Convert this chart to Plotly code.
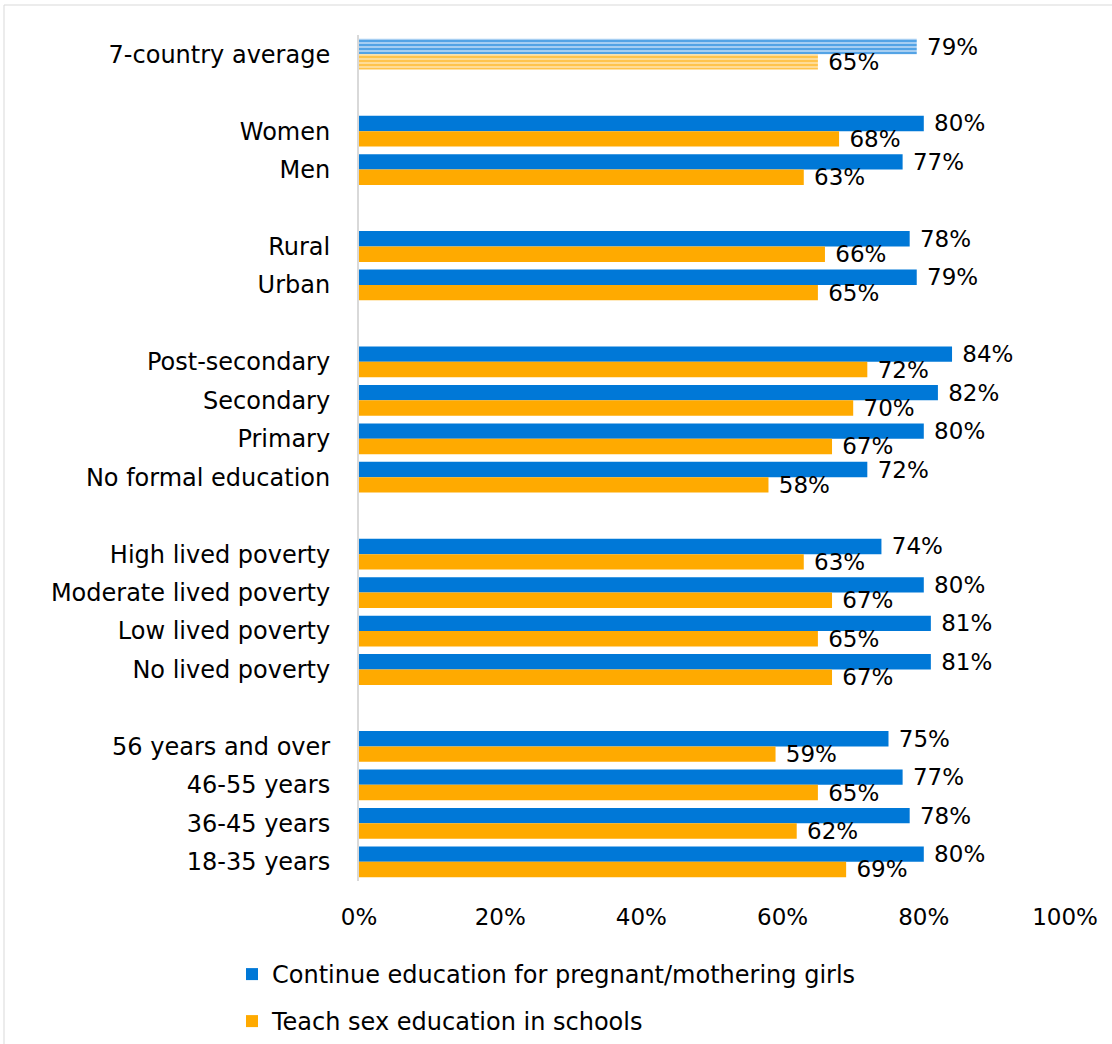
import plotly.graph_objects as go

categories = ["7-country average", " ", "Women", "Men", "  ", "Rural", "Urban", "   ",
              "Post-secondary", "Secondary", "Primary", "No formal education", "    ",
              "High lived poverty", "Moderate lived poverty", "Low lived poverty", "No lived poverty", "     ",
              "56 years and over", "46-55 years", "36-45 years", "18-35 years"]
continue_edu = [79, None, 80, 77, None, 78, 79, None, 84, 82, 80, 72, None, 74, 80, 81, 81, None, 75, 77, 78, 80]
sex_edu = [65, None, 68, 63, None, 66, 65, None, 72, 70, 67, 58, None, 63, 67, 65, 67, None, 59, 65, 62, 69]
x_ticks = [0, 20, 40, 60, 80, 100]
x_tick_labels = ["0%", "20%", "40%", "60%", "80%", "100%"]

BLUE = "#0078d7"
ORANGE = "#ffaa00"
FONT = "DejaVu Sans"
FS = 24

def lab(v):
    return "" if v is None else f" {v}%"

avg_idx = 0
rest = list(range(1, len(categories)))

common = dict(orientation="h", textposition="outside", cliponaxis=False, constraintext="none",
              textfont=dict(family=FONT, size=FS - 1, color="#000"))

fig = go.Figure()
# 7-country average (striped)
fig.add_trace(go.Bar(
    y=[categories[avg_idx]], x=[continue_edu[avg_idx]],
    offsetgroup="a", showlegend=False,
    marker=dict(color="white", line=dict(width=0),
                pattern=dict(shape="-", fgcolor=BLUE, bgcolor="#a6cef2", size=4, solidity=0.5)),
    text=[lab(continue_edu[avg_idx])], **common))
fig.add_trace(go.Bar(
    y=[categories[avg_idx]], x=[sex_edu[avg_idx]],
    offsetgroup="b", showlegend=False,
    marker=dict(color="white", line=dict(width=0),
                pattern=dict(shape="-", fgcolor=ORANGE, bgcolor="#ffdc96", size=4, solidity=0.5)),
    text=[lab(sex_edu[avg_idx])], **common))
# Main bars
fig.add_trace(go.Bar(
    y=[categories[i] for i in rest], x=[continue_edu[i] for i in rest],
    offsetgroup="a", name="Continue education for pregnant/mothering girls",
    marker=dict(color=BLUE, line=dict(width=0)),
    text=[lab(continue_edu[i]) for i in rest], legend="legend", **common))
fig.add_trace(go.Bar(
    y=[categories[i] for i in rest], x=[sex_edu[i] for i in rest],
    offsetgroup="b", name="Teach sex education in schools",
    marker=dict(color=ORANGE, line=dict(width=0)),
    text=[lab(sex_edu[i]) for i in rest], legend="legend2", **common))

L, R, T, B = 359, 1065, 35, 881
W, H = 1112, 1044
pw, ph = R - L, B - T

fig.update_layout(
    width=W, height=H,
    margin=dict(l=L, r=W - R, t=T, b=H - B, autoexpand=False),
    paper_bgcolor="white", plot_bgcolor="white",
    barmode="group", bargap=0.2, bargroupgap=0,
    font=dict(family=FONT, size=FS, color="#000"),
    xaxis=dict(range=[0, 100], tickvals=x_ticks, ticktext=x_tick_labels,
               showgrid=False, zeroline=False, showline=False,
               ticks="", ticklabelstandoff=20,
               tickfont=dict(family=FONT, size=FS - 1, color="#000")),
    yaxis=dict(categoryorder="array", categoryarray=categories, autorange="reversed",
               showgrid=False, zeroline=False, showline=True, linecolor="#d9d9d9", linewidth=2,
               ticks="", ticklabelstandoff=22,
               tickfont=dict(family=FONT, size=FS, color="#000")),
    legend=dict(x=(232 - L) / pw, y=(B - 952) / ph, xanchor="left", yanchor="top",
                font=dict(family=FONT, size=FS, color="#000"), bgcolor="rgba(0,0,0,0)",
                itemwidth=30),
    legend2=dict(x=(232 - L) / pw, y=(B - 999) / ph, xanchor="left", yanchor="top",
                 font=dict(family=FONT, size=FS, color="#000"), bgcolor="rgba(0,0,0,0)",
                 itemwidth=30),
    shapes=[dict(type="rect", xref="paper", yref="paper",
                 x0=(4 - L) / pw, x1=(1130 - L) / pw,
                 y0=(B - 5) / ph, y1=(B - 1060) / ph,
                 line=dict(color="#d9d9d9", width=1), fillcolor="rgba(0,0,0,0)", layer="below")],
)

fig.write_html("out.html", config={"displayModeBar": False},
               post_script="document.body.style.margin='0';document.body.style.overflow='hidden';")
